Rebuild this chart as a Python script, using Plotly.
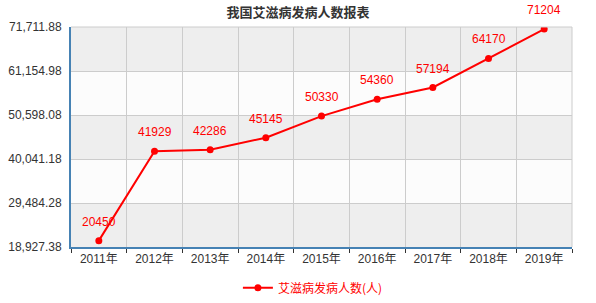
import plotly.graph_objects as go

years = ["2011年", "2012年", "2013年", "2014年", "2015年", "2016年", "2017年", "2018年", "2019年"]
cases = [20450, 41929, 42286, 45145, 50330, 54360, 57194, 64170, 71204]
y_ticks = [18927.38, 29484.28, 40041.18, 50598.08, 61154.98, 71711.88]
y_tick_labels = ["18,927.38", "29,484.28", "40,041.18", "50,598.08", "61,154.98", "71,711.88"]
series_name = "艾滋病发病人数(人)"
title = "我国艾滋病发病人数报表"

FONT = "Liberation Sans, Arial, Noto Sans CJK SC, sans-serif"
RED = "#ff0000"

fig = go.Figure()
fig.add_trace(go.Scatter(
    x=years, y=cases, name=series_name, mode="lines+markers",
    line=dict(color=RED, width=2), marker=dict(color=RED, size=7),
))

# alternating bands
shapes = []
for i in range(len(y_ticks) - 1):
    color = "#eeeeee" if (len(y_ticks) - 2 - i) % 2 == 0 else "#fcfcfc"
    shapes.append(dict(type="rect", xref="paper", yref="y", x0=0, x1=1,
                       y0=y_ticks[i], y1=y_ticks[i + 1], fillcolor=color,
                       line=dict(width=0), layer="below"))
# top and right border
shapes.append(dict(type="line", xref="paper", yref="paper", x0=0, x1=1, y0=1, y1=1,
                   line=dict(color="#cccccc", width=1)))
shapes.append(dict(type="line", xref="paper", yref="paper", x0=1, x1=1, y0=0, y1=1,
                   line=dict(color="#cccccc", width=1)))

annotations = [dict(x=x, y=y, text=str(y), showarrow=False, yshift=19,
                    font=dict(color=RED, size=12, family=FONT))
               for x, y in zip(years, cases)]

fig.update_layout(
    width=596, height=303,
    margin=dict(l=71, r=24, t=27, b=56, autoexpand=False),
    paper_bgcolor="white", plot_bgcolor="white",
    font=dict(family=FONT, size=12, color="#333333"),
    title=dict(text="<b>" + title + "</b>", x=0.5, xanchor="center", y=0.958, yanchor="middle",
               font=dict(size=13, color="#333333", family="Noto Sans CJK SC, sans-serif")),
    shapes=shapes, annotations=annotations,
    showlegend=True,
    legend=dict(orientation="h", x=0.525, xref="container", xanchor="center",
                y=0.05, yref="container", yanchor="middle",
                font=dict(color=RED, size=12, family="Noto Sans CJK SC, sans-serif"),
                bgcolor="rgba(0,0,0,0)"),
    xaxis=dict(type="category", range=[-0.5, len(years) - 0.5], tickson="boundaries",
               showgrid=True, gridcolor="#cccccc", gridwidth=1, automargin=False,
               showline=True, linecolor="#4682b4", linewidth=2,
               ticks="outside", ticklen=4, tickcolor="#333333",
               tickfont=dict(size=12, color="#333333", family=FONT), fixedrange=True),
    yaxis=dict(range=[y_ticks[0], y_ticks[-1]], tickvals=y_ticks, ticktext=y_tick_labels,
               showgrid=True, gridcolor="#cccccc", gridwidth=1, zeroline=False, automargin=False,
               showline=True, linecolor="#4682b4", linewidth=2, ticks="", ticklabelstandoff=5,
               tickfont=dict(size=12, color="#333333", family=FONT), fixedrange=True),
)

fig.write_html("out.html")
